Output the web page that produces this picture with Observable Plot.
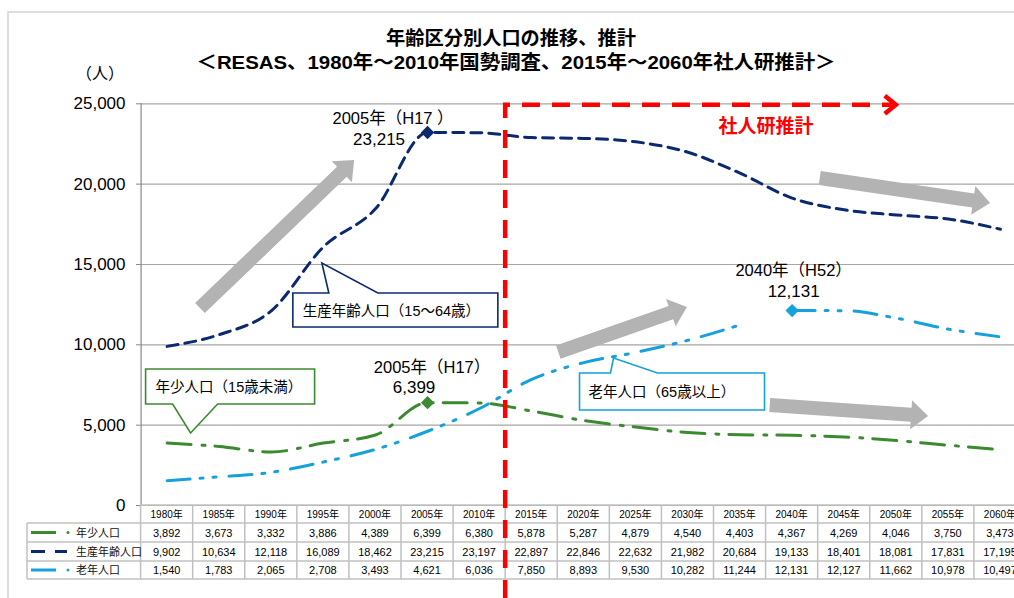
<!DOCTYPE html>
<html><head><meta charset="utf-8">
<script src="https://cdn.jsdelivr.net/npm/d3@7"></script>
<script src="https://cdn.jsdelivr.net/npm/@observablehq/plot@0.6"></script>
<style>
body{margin:0;background:#fff;}
#chart{position:relative;width:1014px;height:598px;overflow:hidden;background:#fff;}
#chart svg{position:absolute;left:0;top:0;}
</style></head><body><div id="chart"></div>
<script>
const FONT = '"Liberation Sans","Noto Sans CJK JP",sans-serif';
const years = [1980,1985,1990,1995,2000,2005,2010,2015,2020,2025,2030,2035,2040,2045,2050,2055,2060];
const yearLabels = years.map(y => y + "年");
const young   = [3892,3673,3332,3886,4389,6399,6380,5878,5287,4879,4540,4403,4367,4269,4046,3750,3473];
const working = [9902,10634,12118,16089,18462,23215,23197,22897,22846,22632,21982,20684,19133,18401,18081,17831,17195];
const elderly = [1540,1783,2065,2708,3493,4621,6036,7850,8893,9530,10282,11244,12131,12127,11662,10978,10497];
const seriesNames = ["年少人口","生産年齢人口","老年人口"];
const calloutTexts = ["年少人口（15歳未満）","生産年齢人口（15〜64歳）","老年人口（65歳以上）"];
const yTicks = [0,5000,10000,15000,20000,25000];
const titleLines = ["年齢区分別人口の推移、推計","＜RESAS、1980年〜2010年国勢調査、2015年〜2060年社人研推計＞"];
const unitLabel = "（人）";
const projLabel = "社人研推計";
const projStartYear = 2012.5;
const projArrowEndYear = 2050;
const peakLabels = [
  {year: 2005, series: 1, line1: "2005年（H17 ）"},
  {year: 2005, series: 0, line1: "2005年（H17）"},
  {year: 2040, series: 2, line1: "2040年（H52）"}
];
// trend arrows in data space: [yearFrom, valueFrom, yearTo, valueTo]
const trendArrows = [
  [1983.2, 12260, 1998.0, 21470],
  [2017.6, 9520, 2029.95, 12320],
  [2042.7, 20350, 2059.05, 18800],
  [2037.9, 6220, 2053.1, 5540]
];
// callout pointer tips in data space
const calloutTips = [[1982.3, 4480],[1994.9, 15060],[2022.9, 9150]];

const colors = ["#3b8a30", "#0b2a6e", "#16a0dc"];
const dashes = ["24,11,3,10", "11,7", "23,10,3,10,3,13"];

const toRows = (arr, s) => years.map((year, i) => ({year, value: arr[i], s, seg: s === 2 && year >= 2040 ? "b" : "a"}));
const youngData = toRows(young, 0), workingData = toRows(working, 1), elderlyData = toRows(elderly, 2);
const markerData = peakLabels.map(p => ({year: p.year, value: [young, working, elderly][p.series][years.indexOf(p.year)], s: p.series}));

const chart = Plot.plot({
  width: 1014, height: 598,
  marginLeft: 141, marginRight: 0, marginTop: 103, marginBottom: 93,
  style: {fontFamily: FONT, color: "#000", background: "transparent", overflow: "visible"},
  x: {type: "linear", domain: [1977.5, 2062.5], range: [140.6, 1026], axis: null},
  y: {domain: [0, 25000], range: [505, 103.3], axis: null},
  marks: [
    Plot.gridY(yTicks, {stroke: "#a6a6a6", strokeOpacity: 1, strokeWidth: 1.2}),
    Plot.axisY(yTicks, {tickFormat: d3.format(","), tickSize: 5, tickPadding: 11, fontSize: 17, stroke: "#888", fill: "#000", label: null}),
    Plot.ruleX([1977.5], {y1: 0, y2: 25000, stroke: "#888", strokeWidth: 1.2}),
    Plot.line(youngData, {x: "year", y: "value", stroke: colors[0], strokeWidth: 3, strokeDasharray: dashes[0], curve: "monotone-x"}),
    Plot.line(workingData, {x: "year", y: "value", stroke: colors[1], strokeWidth: 3, strokeDasharray: dashes[1], curve: "monotone-x"}),
    Plot.line(elderlyData, {x: "year", y: "value", z: "seg", stroke: colors[2], strokeWidth: 3, strokeDasharray: dashes[2], curve: "monotone-x"}),
    Plot.dot(markerData, {x: "year", y: "value", symbol: "diamond2", r: 6, fill: d => colors[d.s], stroke: "none"})
  ]
});
document.getElementById("chart").appendChild(chart);

const xs = v => chart.scale("x").apply(v);
const ys = v => chart.scale("y").apply(v);
const svg = d3.select(chart);
const g = svg.append("g").attr("font-family", FONT).attr("text-anchor", "start");

// outer border
g.append("path").attr("d", "M8,1200 V12 H1200").attr("fill", "none").attr("stroke", "#d4d4d4").attr("stroke-width", 1.5);

// titles
g.append("text").attr("x", 511).attr("y", 45).attr("text-anchor", "middle").attr("font-size", 19).attr("font-weight", "bold")
  .attr("textLength", 250).attr("lengthAdjust", "spacingAndGlyphs").text(titleLines[0]);
g.append("text").attr("x", 516).attr("y", 69).attr("text-anchor", "middle").attr("font-size", 19).attr("font-weight", "bold")
  .attr("textLength", 639).attr("lengthAdjust", "spacingAndGlyphs").text(titleLines[1]);
g.append("text").attr("x", 100).attr("y", 79).attr("text-anchor", "middle").attr("font-size", 16).text(unitLabel);

// table
const tg = g.append("g");
const rowY = [505, 523, 542, 561, 579];
const lineC = "#c0c0c0";
const xL = xs(1977.5), xR = xs(2062.5);
tg.append("line").attr("x1", xL).attr("x2", xR).attr("y1", rowY[0]).attr("y2", rowY[0]).attr("stroke", lineC).attr("stroke-width", 1.5);
for (let r = 1; r < rowY.length; r++) {
  tg.append("line").attr("x1", 27).attr("x2", xR).attr("y1", rowY[r]).attr("y2", rowY[r]).attr("stroke", lineC).attr("stroke-width", 1.5);
}
tg.append("line").attr("x1", 27).attr("x2", 27).attr("y1", rowY[1]).attr("y2", rowY[4]).attr("stroke", lineC).attr("stroke-width", 1.5);
years.forEach((yr, i) => {
  tg.append("line").attr("x1", xs(yr - 2.5)).attr("x2", xs(yr - 2.5)).attr("y1", rowY[0]).attr("y2", rowY[4]).attr("stroke", lineC).attr("stroke-width", 1.5);
  tg.append("text").attr("x", xs(yr)).attr("y", (rowY[0] + rowY[1]) / 2 + 3.5).attr("text-anchor", "middle").attr("font-size", 10).text(yearLabels[i]);
  [young, working, elderly].forEach((arr, r) => {
    tg.append("text").attr("x", xs(yr)).attr("y", (rowY[r + 1] + rowY[r + 2]) / 2 + 4).attr("text-anchor", "middle").attr("font-size", 11)
      .text(d3.format(",")(arr[i]));
  });
});
seriesNames.forEach((name, r) => {
  const cy = (rowY[r + 1] + rowY[r + 2]) / 2;
  if (r === 1) {
    tg.append("line").attr("x1", 31).attr("x2", 45).attr("y1", cy).attr("y2", cy).attr("stroke", colors[r]).attr("stroke-width", 3);
    tg.append("line").attr("x1", 55).attr("x2", 67).attr("y1", cy).attr("y2", cy).attr("stroke", colors[r]).attr("stroke-width", 3);
  } else {
    tg.append("line").attr("x1", 31).attr("x2", 56).attr("y1", cy).attr("y2", cy).attr("stroke", colors[r]).attr("stroke-width", 3);
    tg.append("circle").attr("cx", 68).attr("cy", cy).attr("r", 1.5).attr("fill", colors[r]);
  }
  tg.append("text").attr("x", 76).attr("y", cy + 4).attr("font-size", 11).attr("fill", "#111").text(name);
});

// trend arrows
function blockArrow(x0, y0, x1, y1, w = 14, hw = 29, hl = 17) {
  const dx = x1 - x0, dy = y1 - y0, L = Math.hypot(dx, dy);
  const ux = dx / L, uy = dy / L, nx = -uy, ny = ux;
  const bx = x1 - ux * hl, by = y1 - uy * hl;
  const p = [
    [x0 + nx * w / 2, y0 + ny * w / 2], [bx + nx * w / 2, by + ny * w / 2], [bx + nx * hw / 2, by + ny * hw / 2],
    [x1, y1], [bx - nx * hw / 2, by - ny * hw / 2], [bx - nx * w / 2, by - ny * w / 2], [x0 - nx * w / 2, y0 - ny * w / 2]
  ];
  return "M" + p.map(q => q.join(",")).join("L") + "Z";
}
trendArrows.forEach(a => {
  g.append("path").attr("d", blockArrow(xs(a[0]), ys(a[1]), xs(a[2]), ys(a[3]))).attr("fill", "#b3b3b3");
});

// projection marker (red)
const rx = xs(projStartYear), ry = ys(25000) + 1.5;
g.append("path").attr("d", `M${rx},598 V${ry} H${xs(projArrowEndYear) - 4}`).attr("fill", "none").attr("stroke", "#ff0000")
  .attr("stroke-width", 4.5).attr("stroke-dasharray", "18,12");
const tx = xs(projArrowEndYear);
g.append("path").attr("d", `M${tx - 11},${ry - 9} L${tx},${ry} L${tx - 11},${ry + 9}`).attr("fill", "none").attr("stroke", "#ff0000").attr("stroke-width", 4.5);
g.append("text").attr("x", 766).attr("y", 133).attr("text-anchor", "middle").attr("font-size", 19).attr("font-weight", "bold").attr("fill", "#ff0000").text(projLabel);

// callouts
const calloutGeo = [
  {box: [-45, 124, -64, -29], base: [-18, 27], side: "bottom", text: [-35, -41]},
  {box: [-29, 176, 30, 64], base: [7, 56], side: "top", text: [-19, 53]},
  {box: [-34, 151, 15, 52], base: [-3, 44], side: "top", text: [-25, 39]}
];
calloutGeo.forEach((c, i) => {
  const px = xs(calloutTips[i][0]), py = ys(calloutTips[i][1]);
  const [l, r, t, b] = c.box.map((v, k) => (k < 2 ? px : py) + v);
  const b0 = px + c.base[0], b1 = px + c.base[1];
  let d;
  if (c.side === "bottom") d = `M${l},${t} H${r} V${b} H${b1} L${px},${py} L${b0},${b} H${l} Z`;
  else d = `M${l},${t} H${b0} L${px},${py} L${b1},${t} H${r} V${b} H${l} Z`;
  g.append("path").attr("d", d).attr("fill", "#fff").attr("stroke", colors[i]).attr("stroke-width", 1.6);
  g.append("text").attr("x", px + c.text[0]).attr("y", py + c.text[1]).attr("text-anchor", "start").attr("font-size", 14.5).attr("fill", "#000").text(calloutTexts[i]);
});

// peak labels
const peakOffsets = [ [[-34, -8], [-48, 13]], [[5, -29], [-13, -9]], [[2, -34], [2, -13]] ];
peakLabels.forEach((p, i) => {
  const m = markerData[i];
  const px = xs(m.year), py = ys(m.value);
  const o = peakOffsets[i];
  g.append("text").attr("x", px + o[0][0]).attr("y", py + o[0][1]).attr("text-anchor", "middle").attr("font-size", 16.5).text(p.line1);
  g.append("text").attr("x", px + o[1][0]).attr("y", py + o[1][1]).attr("text-anchor", "middle").attr("font-size", 17).text(d3.format(",")(m.value));
});
</script></body></html>
